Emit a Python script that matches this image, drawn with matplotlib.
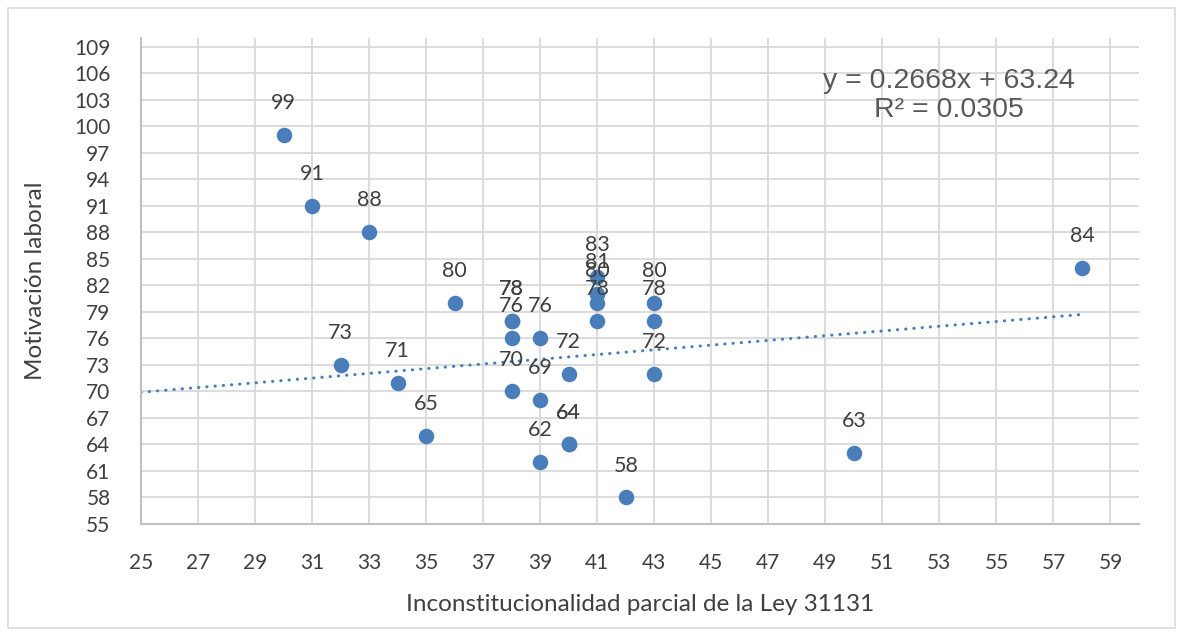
import matplotlib.pyplot as plt
from matplotlib.patches import Rectangle
import numpy as np

# data
x_vals = [30, 31, 32, 33, 34, 35, 36, 38, 38, 38, 38, 39, 39, 39, 40, 40, 40,
          41, 41, 41, 41, 42, 43, 43, 43, 50, 58]
y_vals = [99, 91, 73, 88, 71, 65, 80, 78, 78, 76, 70, 76, 69, 62, 72, 64, 64,
          83, 81, 80, 78, 58, 80, 78, 72, 63, 84]
slope = 0.2668
intercept = 63.24
r2 = 0.0305

blue = '#4A7EBB'
grid = '#D9D9D9'
txt = '#404040'

fig = plt.figure(figsize=(11.83, 6.36), dpi=100)
ax = fig.add_axes([141/1183, 1-524/636, (1139-141)/1183, (524-38)/636])

ax.scatter(x_vals, y_vals, s=125, color=blue, zorder=3, linewidths=0)
for xv, yv in zip(x_vals, y_vals):
    ax.annotate(str(yv), (xv, yv), xytext=(0, 23), textcoords='offset points',
                ha='center', va='center', fontsize=15.5, color=txt,
                family='Lato', zorder=4)

# linear trendline (Excel style, dotted)
xt = np.array([25, 58])
ax.plot(xt, slope*xt + intercept, color=blue, lw=2.2,
        linestyle=(0, (0.1, 2.6)), dash_capstyle='round', zorder=2)

ax.text(0.81, 0.882, f'y = {slope}x + {intercept}\nR² = {r2}',
        transform=ax.transAxes, ha='center', va='center', fontsize=20.5,
        family='Liberation Sans', color='#595959', linespacing=1.12)

ax.set_xlim(25, 60)
ax.set_ylim(55, 110)
ax.set_xticks(np.arange(25, 60, 2))
ax.set_yticks(np.arange(55, 110, 3))
ax.grid(True, color=grid, lw=1.3)
ax.set_axisbelow(True)
ax.tick_params(length=0, labelsize=15, labelcolor=txt)
ax.tick_params(axis='x', pad=21)
ax.tick_params(axis='y', pad=22)
for lab in ax.get_xticklabels() + ax.get_yticklabels():
    lab.set_family('Lato')
for s in ['top', 'right']:
    ax.spines[s].set_visible(False)
for s in ['left', 'bottom']:
    ax.spines[s].set_color('#BFBFBF')
    ax.spines[s].set_linewidth(1.5)

ax.set_xlabel('Inconstitucionalidad parcial de la Ley 31131', fontsize=17.5,
              family='Lato', color=txt, labelpad=15)
ax.set_ylabel('Motivación laboral', fontsize=17.5, family='Lato', color=txt,
              labelpad=20)

fig.patches.append(Rectangle((8/1183, 8/636), 1-16/1183, 1-16/636,
                             transform=fig.transFigure, fill=False,
                             edgecolor=grid, lw=1.2))

fig.savefig('out.png', dpi=100)
